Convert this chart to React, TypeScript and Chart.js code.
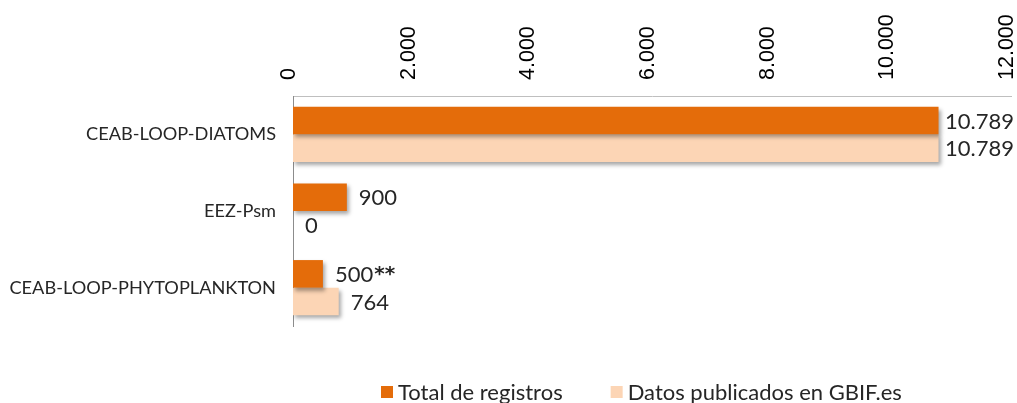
import React, { useEffect, useRef } from 'react';
import { Chart, registerables } from 'chart.js';

Chart.register(...registerables);

const categories = ['CEAB-LOOP-DIATOMS', 'EEZ-Psm', 'CEAB-LOOP-PHYTOPLANKTON'];
const totalRegistros = [10789, 900, 500];
const datosPublicados = [10789, 0, 764];
const totalSuffix = ['', '', '**'];
const publicadosSuffix = ['', '', ''];
const seriesNames = ['Total de registros', 'Datos publicados en GBIF.es'];
const seriesColors = ['#E46C0A', '#FCD5B5'];
const xMin = 0;
const xMax = 12000;
const xStep = 2000;

const fmt = (v: number) => String(v).replace(/\B(?=(\d{3})+(?!\d))/g, '.');

const labelFont = '22px Lato';
const suffixFont = 'bold 20px "DejaVu Sans"';
const legendFont = '22px Lato';
const textColor = '#262626';

const shadowAndLabels = {
  id: 'shadowAndLabels',
  beforeDatasetsDraw(chart: any) {
    const ctx = chart.ctx;
    ctx.save();
    ctx.shadowColor = 'rgba(0,0,0,0.35)';
    ctx.shadowOffsetX = 2;
    ctx.shadowOffsetY = 3;
    ctx.shadowBlur = 4;
  },
  afterDatasetsDraw(chart: any) {
    const ctx = chart.ctx;
    ctx.restore();
    ctx.save();
    ctx.fillStyle = textColor;
    ctx.textAlign = 'left';
    ctx.textBaseline = 'middle';
    const maxRight = chart.width - 3;
    chart.data.datasets.forEach((ds: any, di: number) => {
      const meta = chart.getDatasetMeta(di);
      meta.data.forEach((bar: any, i: number) => {
        const txt = fmt(ds.data[i]);
        const suf = ds.suffixes ? ds.suffixes[i] : '';
        ctx.font = labelFont;
        const w = ctx.measureText(txt).width;
        ctx.font = suffixFont;
        const ws = suf ? ctx.measureText(suf).width + 1 : 0;
        const x0 = Math.min(bar.x + 12, maxRight - w - ws);
        ctx.font = labelFont;
        ctx.fillText(txt, x0, bar.y + 1);
        if (suf) {
          ctx.font = suffixFont;
          ctx.fillText(suf, x0 + w + 1, bar.y + 1);
        }
      });
    });
    ctx.restore();
  },
};

const customLegend = {
  id: 'customLegend',
  afterDraw(chart: any) {
    const ctx = chart.ctx;
    ctx.save();
    ctx.font = legendFont;
    ctx.textBaseline = 'middle';
    ctx.textAlign = 'left';
    const box = 12;
    const boxGap = 5;
    const itemGap = 48;
    const cy = 392;
    let x = 381;
    chart.data.datasets.forEach((ds: any) => {
      ctx.fillStyle = ds.backgroundColor;
      ctx.fillRect(x, cy - box / 2, box, box);
      ctx.fillStyle = textColor;
      ctx.fillText(ds.label, x + box + boxGap, cy + 1);
      x += box + boxGap + ctx.measureText(ds.label).width + itemGap;
    });
    ctx.restore();
  },
};

export default function App() {
  const ref = useRef<HTMLCanvasElement | null>(null);
  useEffect(() => {
    if (!ref.current) return;
    const chart = new Chart(ref.current, {
      type: 'bar',
      data: {
        labels: categories,
        datasets: [
          {
            label: seriesNames[0],
            data: totalRegistros,
            backgroundColor: seriesColors[0],
            suffixes: totalSuffix,
            categoryPercentage: 0.72,
            barPercentage: 1,
          } as any,
          {
            label: seriesNames[1],
            data: datosPublicados,
            backgroundColor: seriesColors[1],
            suffixes: publicadosSuffix,
            categoryPercentage: 0.72,
            barPercentage: 1,
          } as any,
        ],
      },
      options: {
        indexAxis: 'y',
        responsive: false,
        animation: false,
        devicePixelRatio: 1,
        layout: { padding: { top: 0, right: 6, bottom: 77, left: 0 } },
        plugins: {
          legend: { display: false },
          tooltip: { enabled: false },
        },
        scales: {
          x: {
            position: 'top',
            min: xMin,
            max: xMax,
            grid: { display: false },
            border: { display: true, color: '#BFBFBF', width: 1 },
            ticks: {
              stepSize: xStep,
              autoSkip: false,
              minRotation: 90,
              maxRotation: 90,
              padding: 8,
              labelOffset: 22,
              color: '#000000',
              font: { family: 'Liberation Sans', size: 21.5 },
              callback: (v: any) => fmt(Number(v)),
            },
            afterFit: (s: any) => {
              s.height = 96;
              s.paddingLeft = 0;
              s.paddingRight = 0;
            },
          },
          y: {
            grid: { display: false },
            border: { display: true, color: '#8C8C8C', width: 1 },
            ticks: {
              padding: 9,
              color: textColor,
              font: { family: 'Lato', size: 18.2 },
            },
            afterFit: (s: any) => {
              s.width = 293;
              s.paddingTop = 0;
              s.paddingBottom = 0;
            },
          },
        },
      },
      plugins: [shadowAndLabels, customLegend],
    });
    return () => chart.destroy();
  }, []);
  return (
    <div style={{ position: 'fixed', left: 0, top: 0, width: 1017, height: 403, background: '#ffffff' }}>
      <canvas ref={ref} width={1017} height={403} style={{ display: 'block' }} />
    </div>
  );
}
